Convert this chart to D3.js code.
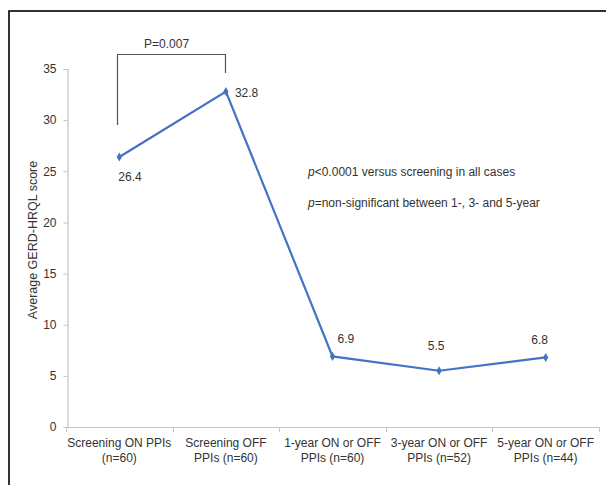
<!DOCTYPE html>
<html>
<head>
<meta charset="utf-8">
<script src="https://cdn.jsdelivr.net/npm/d3@7"></script>
<style>
  html, body { margin: 0; padding: 0; background: #fff; }
  svg { display: block; font-family: "Liberation Sans", Arial, sans-serif; }
</style>
</head>
<body>
<svg id="chart" width="606" height="485"></svg>
<script>
// Groups along the x axis (two-line labels)
const categories = [
  ["Screening ON PPIs", "(n=60)"],
  ["Screening OFF", "PPIs (n=60)"],
  ["1-year ON or OFF", "PPIs (n=60)"],
  ["3-year ON or OFF", "PPIs (n=52)"],
  ["5-year ON or OFF", "PPIs (n=44)"]
];
// Average GERD-HRQL score per group
const scores = [26.4, 32.8, 6.9, 5.5, 6.8];
const yTicks = [0, 5, 10, 15, 20, 25, 30, 35];

const svg = d3.select("#chart");
const margin = { left: 67, right: 7, top: 69, bottom: 58 };
const W = 606, H = 485;

// outer frame
svg.append("rect")
  .attr("x", 9).attr("y", 11)
  .attr("width", 640).attr("height", 520)
  .attr("fill", "none").attr("stroke", "#000").attr("stroke-width", 1.6);

const x = d3.scaleBand()
  .domain(d3.range(categories.length))
  .range([margin.left - 1, W - margin.right])
  .padding(0);

const y = d3.scaleLinear()
  .domain([0, 35])
  .range([H - margin.bottom, margin.top]);

const axisColor = "#c4c4c4";
const textColor = "#333";

// y axis
const yAxis = svg.append("g")
  .attr("transform", `translate(${margin.left + 0.5},0)`)
  .call(d3.axisLeft(y).tickValues(yTicks).tickSize(4).tickPadding(7).tickFormat(d3.format("d")));
yAxis.select(".domain").attr("stroke", axisColor).attr("stroke-width", 1.2);
yAxis.selectAll(".tick line").attr("stroke", axisColor);
yAxis.selectAll(".tick text").attr("fill", textColor).style("font-size", "12px")
  .attr("font-family", "Liberation Sans, Arial, sans-serif");

// x axis baseline with boundary ticks
const x0 = x.range()[0], x1 = x.range()[1];
svg.append("line")
  .attr("x1", x0).attr("x2", x1)
  .attr("y1", y(0) + 0.5).attr("y2", y(0) + 0.5)
  .attr("stroke", axisColor).attr("stroke-width", 1.2);
const bounds = d3.range(categories.length + 1).map(i => i < categories.length ? x(i) : x1);
svg.selectAll(".xtick").data(bounds).enter().append("line")
  .attr("x1", d => Math.round(d) + 0.5).attr("x2", d => Math.round(d) + 0.5)
  .attr("y1", y(0)).attr("y2", y(0) + 5)
  .attr("stroke", axisColor);

// category labels
const catG = svg.append("g");
categories.forEach((lines, i) => {
  const t = catG.append("text")
    .attr("x", x(i) + x.bandwidth() / 2)
    .attr("y", y(0) + 20)
    .attr("text-anchor", "middle")
    .attr("fill", textColor)
    .style("font-size", "12px");
  lines.forEach((ln, j) => {
    t.append("tspan")
      .attr("x", x(i) + x.bandwidth() / 2)
      .attr("dy", j === 0 ? 0 : 15)
      .text(ln);
  });
});

// y axis title
svg.append("text")
  .attr("transform", "translate(37,240) rotate(-90)")
  .attr("text-anchor", "middle")
  .attr("fill", textColor)
  .style("font-size", "12.5px")
  .text("Average GERD-HRQL score");

// line series
const cx = i => x(i) + x.bandwidth() / 2;
const line = d3.line().x((d, i) => cx(i)).y(d => y(d));
svg.append("path")
  .datum(scores)
  .attr("d", line)
  .attr("fill", "none")
  .attr("stroke", "#4472c4")
  .attr("stroke-width", 2.2);

svg.selectAll(".pt").data(scores).enter().append("path")
  .attr("transform", (d, i) => `translate(${cx(i)},${y(d)})`)
  .attr("d", d3.symbol().type(d3.symbolDiamond).size(24))
  .attr("fill", "#4472c4");

// value labels
const labelPos = [
  { dx: -1, dy: 24, anchor: "start" },
  { dx: 9, dy: 5, anchor: "start" },
  { dx: 5, dy: -13, anchor: "start" },
  { dx: -3, dy: -21, anchor: "middle" },
  { dx: -6, dy: -13, anchor: "middle" }
];
svg.selectAll(".val").data(scores).enter().append("text")
  .attr("x", (d, i) => cx(i) + labelPos[i].dx)
  .attr("y", (d, i) => y(d) + labelPos[i].dy)
  .attr("text-anchor", (d, i) => labelPos[i].anchor)
  .attr("fill", textColor)
  .style("font-size", "12px")
  .text(d => d.toFixed(1));

// significance bracket between the two screening groups
const bTop = 54;
svg.append("path")
  .attr("d", `M${Math.round(cx(0)) - 1.5},125 V${bTop + 0.5} H${Math.round(cx(1)) - 0.5} V73`)
  .attr("fill", "none").attr("stroke", "#555").attr("stroke-width", 1.2);
svg.append("text")
  .attr("x", (cx(0) + cx(1)) / 2 - 6)
  .attr("y", 48)
  .attr("text-anchor", "middle")
  .attr("fill", textColor)
  .style("font-size", "12px")
  .text("P=0.007");

// p-value notes
const notes = [
  ["p", "<0.0001 versus screening in all cases"],
  ["p", "=non-significant between 1-, 3- and 5-year"]
];
notes.forEach((n, i) => {
  const t = svg.append("text")
    .attr("x", 308).attr("y", 176 + i * 31)
    .attr("fill", textColor)
    .style("font-size", "12px");
  t.append("tspan").style("font-style", "italic").text(n[0]);
  t.append("tspan").text(n[1]);
});
</script>
</body>
</html>
